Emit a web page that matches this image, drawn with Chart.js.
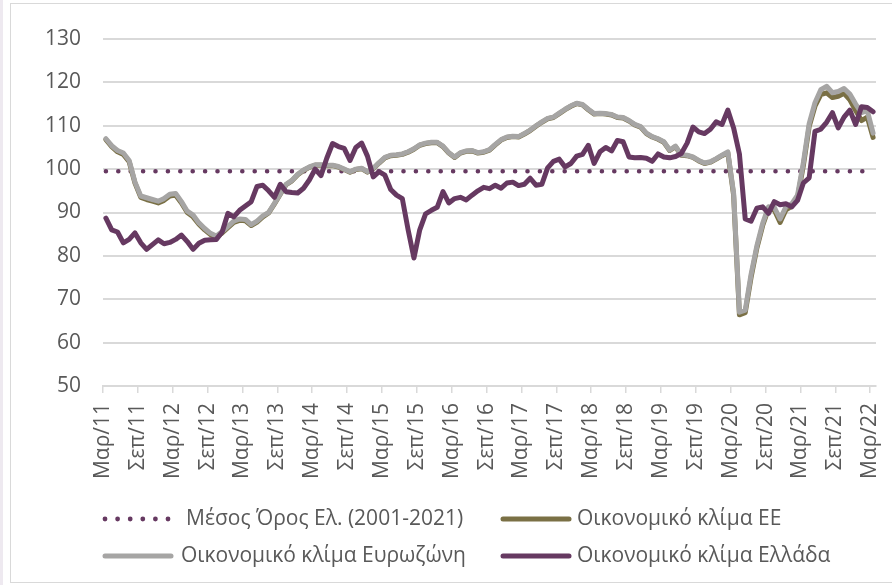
<!DOCTYPE html>
<html>
<head>
<meta charset="utf-8">
<script src="https://cdn.jsdelivr.net/npm/chart.js@4.4.1/dist/chart.umd.min.js"></script>
<style>
  html, body { margin: 0; padding: 0; background: #fff; }
  #wrap { width: 892px; height: 585px; position: relative; }
</style>
</head>
<body>
<div id="wrap"><canvas id="climate_chart" width="892" height="585"></canvas></div>
<script>
'use strict'
// x-axis labels, one every 6 months (Mar/11 ... Mar/22)
const tickLabels = [
    'Μαρ/11', 'Σεπ/11', 'Μαρ/12', 'Σεπ/12', 'Μαρ/13', 'Σεπ/13', 'Μαρ/14', 'Σεπ/14',
    'Μαρ/15', 'Σεπ/15', 'Μαρ/16', 'Σεπ/16', 'Μαρ/17', 'Σεπ/17', 'Μαρ/18', 'Σεπ/18',
    'Μαρ/19', 'Σεπ/19', 'Μαρ/20', 'Σεπ/20', 'Μαρ/21', 'Σεπ/21', 'Μαρ/22'
];
const yTicks = [50, 60, 70, 80, 90, 100, 110, 120, 130];

// monthly values, Mar 2011 - Mar 2022
const greece = [
    88.7, 86.0, 85.5, 83.0, 83.8, 85.3, 83.0, 81.5, 82.6, 83.7, 82.8, 83.1, 83.8, 84.8, 83.3, 81.5, 82.9, 83.6, 83.7, 83.8, 85.5, 89.8,
    89.0, 90.5, 91.5, 92.5, 96.0, 96.3, 95.0, 93.5, 96.5, 94.8, 94.6, 94.5, 95.6, 97.5, 100.0, 98.5, 102.5, 105.9, 105.2, 104.8, 102.0, 105.0, 106.0,
    103.0, 98.2, 99.4, 98.6, 95.3, 94.0, 93.2, 86.0, 79.5, 86.0, 89.7, 90.5, 91.2, 94.8, 92.2, 93.2, 93.5, 92.9, 94.0, 95.0, 95.8, 95.5,
    96.3, 95.6, 96.8, 97.0, 96.2, 96.5, 97.9, 96.3, 96.5, 100.3, 101.8, 102.3, 100.5, 101.3, 103.0, 103.4, 105.5, 101.3, 104.0, 105.0, 104.2, 106.6,
    106.3, 102.8, 102.6, 102.7, 102.5, 101.8, 103.5, 102.8, 102.6, 102.9, 103.6, 106.0, 109.7, 108.6, 108.2, 109.2, 110.9, 110.3, 113.6, 109.5, 103.5,
    88.5, 88.0, 91.0, 91.3, 89.8, 92.5, 91.8, 92.0, 91.3, 92.8, 96.8, 98.0, 108.7, 109.2, 110.8, 113.0, 109.5, 112.0, 113.6, 110.3, 114.4, 114.2, 113.2
];
const eurozone = [
    107.0, 105.4, 104.3, 103.7, 102.0, 97.0, 93.8, 93.4, 93.0, 92.6, 93.2, 94.2, 94.4, 92.5, 90.3, 89.4, 87.6, 86.3, 85.2, 84.6, 85.6, 86.8, 88.0,
    88.5, 88.4, 87.2, 88.0, 89.2, 90.0, 92.1, 94.3, 96.5, 97.4, 98.8, 99.8, 100.5, 101.0, 101.0, 100.9, 100.9, 100.6, 100.0, 99.4, 100.0, 100.2,
    99.4, 100.2, 101.5, 102.7, 103.2, 103.3, 103.5, 104.0, 104.7, 105.6, 106.0, 106.2, 106.2, 105.3, 103.8, 102.8, 103.8, 104.2, 104.3, 103.8, 104.0, 104.5,
    105.7, 106.8, 107.4, 107.6, 107.5, 108.2, 109.0, 110.0, 110.9, 111.7, 112.0, 112.9, 113.8, 114.6, 115.2, 114.9, 113.8, 112.8, 112.9, 112.8, 112.6, 112.0,
    111.9, 111.2, 110.3, 109.8, 108.3, 107.5, 107.0, 106.3, 104.4, 105.3, 103.3, 103.2, 102.8, 102.0, 101.4, 101.7, 102.4, 103.2, 104.0, 94.5,
    67.0, 67.5, 75.7, 82.3, 87.5, 91.3, 91.2, 88.5, 91.3, 92.0, 94.0, 101.5, 110.5, 115.3, 118.3, 119.1, 117.6, 117.9, 118.6, 117.3, 115.0, 113.0, 113.5, 108.3
];
const eu = [
    106.8, 105.2, 104.0, 103.4, 101.7, 96.8, 93.5, 93.0, 92.6, 92.2, 92.8, 93.8, 94.0, 92.2, 90.0, 89.0, 87.3, 86.0, 84.9, 84.3, 85.3, 86.5, 87.7,
    88.2, 88.1, 87.0, 87.8, 89.0, 89.9, 92.0, 94.2, 96.4, 97.3, 98.7, 99.7, 100.4, 100.9, 100.9, 100.8, 100.8, 100.5, 99.9, 99.3, 99.9, 100.1,
    99.3, 100.1, 101.4, 102.6, 103.1, 103.2, 103.4, 103.9, 104.6, 105.5, 105.9, 106.1, 106.1, 105.2, 103.7, 102.7, 103.7, 104.1, 104.2, 103.7, 103.9, 104.4,
    105.6, 106.7, 107.3, 107.5, 107.4, 108.1, 108.9, 109.9, 110.8, 111.6, 111.9, 112.8, 113.7, 114.5, 115.1, 114.8, 113.7, 112.7, 112.8, 112.7, 112.5, 111.9,
    111.8, 111.1, 110.2, 109.7, 108.2, 107.4, 106.9, 106.2, 104.3, 105.2, 103.2, 103.1, 102.7, 101.9, 101.3, 101.6, 102.3, 103.1, 103.8, 94.0,
    66.4, 66.9, 75.0, 81.8, 87.0, 90.8, 90.6, 87.7, 90.6, 91.4, 93.4, 100.8, 109.8, 114.5, 117.2, 117.6, 116.5, 116.8, 117.5, 116.0, 113.5, 111.2, 112.0, 107.3
];
// Greek long-run average (2001-2021)
const avgValue = 99.5;

const seriesNames = [
    'Μέσος Όρος Ελ. (2001-2021)',
    'Οικονομικό κλίμα ΕΕ',
    'Οικονομικό κλίμα Ευρωζώνη',
    'Οικονομικό κλίμα Ελλάδα'
];

const purple = '#663961';
const grey = '#A6A5A4';
const olive = '#7A7045';
const textColor = '#595959';
const gridColor = '#D9D9D9';
const fontFamily = "'Open Sans', 'Noto Sans', sans-serif";

// each month sits in the middle of its one-month slot
function toPoints(values) {
    return values.map(function (v, i) {
        return { x: i + 0.5, y: v };
    });
}

let framePlugin = {
    id: 'frame',
    beforeDraw: function (chart) {
        let ctx = chart.ctx;
        ctx.save();
        ctx.fillStyle = '#ffffff';
        ctx.fillRect(0, 0, chart.width, chart.height);
        ctx.fillStyle = '#EEE9F0';
        ctx.fillRect(0, 0, 3, chart.height);
        ctx.strokeStyle = '#D9D9D9';
        ctx.lineWidth = 1;
        ctx.strokeRect(10.5, 3.5, chart.width, chart.height - 6);
        ctx.restore();
    }
};

// legend: two rows, two columns, like the spreadsheet legend
let legendPlugin = {
    id: 'customLegend',
    afterDraw: function (chart) {
        let ctx = chart.ctx;
        ctx.save();
        ctx.font = '21px ' + fontFamily;
        ctx.textBaseline = 'middle';
        ctx.textAlign = 'left';
        const row1 = 519, row2 = 556;

        // dotted marker
        ctx.fillStyle = purple;
        for (let k = 0; k < 6; k++) {
            ctx.beginPath();
            ctx.arc(105 + k * 12.6, row1, 2.4, 0, Math.PI * 2);
            ctx.fill();
        }
        function lineMarker(x0, x1, y, color) {
            ctx.strokeStyle = color;
            ctx.lineWidth = 5;
            ctx.lineCap = 'round';
            ctx.beginPath();
            ctx.moveTo(x0, y);
            ctx.lineTo(x1, y);
            ctx.stroke();
        }
        lineMarker(503, 569, row1, olive);
        lineMarker(105, 171, row2, grey);
        lineMarker(503, 569, row2, purple);

        ctx.fillStyle = textColor;
        ctx.fillText(seriesNames[0], 186, row1);
        ctx.fillText(seriesNames[1], 577, row1);
        ctx.fillText(seriesNames[2], 181, row2);
        ctx.fillText(seriesNames[3], 577, row2);
        ctx.restore();
    }
};

let lineStyle = {
    borderWidth: 5,
    pointRadius: 0,
    tension: 0,
    fill: false,
    borderJoinStyle: 'round',
    borderCapStyle: 'round'
};

let chart = new Chart('climate_chart', {
    type: 'line',
    data: {
        datasets: [
            Object.assign({ label: seriesNames[3], data: toPoints(greece), borderColor: purple, order: 1 }, lineStyle),
            Object.assign({ label: seriesNames[2], data: toPoints(eurozone), borderColor: grey, order: 2 }, lineStyle),
            Object.assign({ label: seriesNames[1], data: toPoints(eu), borderColor: olive, order: 3 }, lineStyle),
            {
                label: seriesNames[0],
                data: [{ x: 0.5, y: avgValue }, { x: greece.length - 0.5, y: avgValue }],
                borderColor: purple,
                borderWidth: 4.6,
                borderDash: [0, 12.4],
                borderCapStyle: 'round',
                pointRadius: 0,
                fill: false,
                order: 4
            }
        ]
    },
    options: {
        responsive: false,
        animation: false,
        events: [],
        layout: { padding: { left: 0, top: 39, right: 16, bottom: 0 } },
        plugins: {
            legend: { display: false },
            tooltip: { enabled: false }
        },
        scales: {
            x: {
                type: 'linear',
                min: 0,
                max: greece.length,
                afterBuildTicks: function (scale) {
                    scale.ticks = tickLabels.map(function (_, k) { return { value: k * 6 }; });
                },
                afterFit: function (scale) {
                    scale.height = 199;
                    scale.paddingLeft = 0;
                    scale.paddingRight = 0;
                },
                grid: {
                    drawOnChartArea: false,
                    drawTicks: true,
                    tickLength: 7,
                    color: gridColor,
                    lineWidth: 1.5
                },
                border: { color: gridColor, width: 2 },
                ticks: {
                    autoSkip: false,
                    minRotation: 90,
                    maxRotation: 90,
                    padding: 10,
                    color: textColor,
                    font: { family: fontFamily, size: 21 },
                    callback: function (value) {
                        return tickLabels[Math.round(value / 6)];
                    }
                }
            },
            y: {
                min: 50,
                max: 130,
                afterBuildTicks: function (scale) {
                    scale.ticks = yTicks.map(function (v) { return { value: v }; });
                },
                afterFit: function (scale) {
                    scale.width = 103;
                    scale.paddingTop = 0;
                    scale.paddingBottom = 0;
                },
                grid: {
                    drawTicks: false,
                    color: gridColor,
                    lineWidth: 2
                },
                border: { display: false },
                ticks: {
                    padding: 22,
                    color: textColor,
                    font: { family: fontFamily, size: 21 }
                }
            }
        }
    },
    plugins: [framePlugin, legendPlugin]
});
</script>
</body>
</html>
